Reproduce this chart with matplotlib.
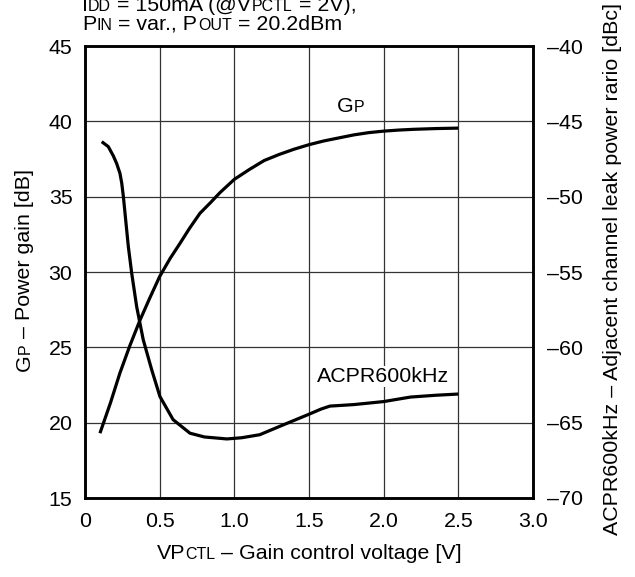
import matplotlib
matplotlib.use("Agg")
import matplotlib.pyplot as plt
from matplotlib.transforms import IdentityTransform
from matplotlib.font_manager import FontProperties, findfont, get_font

plt.rcParams['font.family'] = ['Liberation Sans', 'DejaVu Sans']

# Gain curve
vpctl_gp = [0.10, 0.17, 0.234, 0.30, 0.368, 0.435, 0.50, 0.57, 0.636, 0.70, 0.77, 0.84,
            0.904, 1.00, 1.10, 1.20, 1.30, 1.40, 1.50, 1.60, 1.70, 1.80, 1.90, 2.00,
            2.10, 2.20, 2.35, 2.50]
gp = [19.3, 21.3, 23.3, 25.1, 26.8, 28.3, 29.7, 30.9, 31.9, 32.9, 33.9, 34.6,
      35.27, 36.15, 36.8, 37.4, 37.8, 38.15, 38.45, 38.7, 38.9, 39.1, 39.25, 39.35,
      39.42, 39.47, 39.52, 39.55]

# ACPR curve
vpctl_acpr = [0.112, 0.156, 0.19, 0.212, 0.234, 0.246, 0.257, 0.268, 0.29, 0.313, 0.346,
              0.39, 0.447, 0.502, 0.59, 0.703, 0.80, 0.893, 0.95, 1.05, 1.17, 1.30, 1.40,
              1.50, 1.58, 1.64, 1.80, 2.00, 2.18, 2.35, 2.50]
acpr = [-46.35, -46.68, -47.3, -47.8, -48.45, -49.1, -50.0, -51.1, -53.3, -55.1, -57.3,
        -59.5, -61.5, -63.27, -64.8, -65.7, -65.95, -66.03, -66.08, -66.0, -65.8, -65.26,
        -64.85, -64.44, -64.1, -63.9, -63.8, -63.6, -63.3, -63.18, -63.1]

x_ticks = [0, 0.5, 1.0, 1.5, 2.0, 2.5, 3.0]
x_tick_labels = ['0', '0.5', '1.0', '1.5', '2.0', '2.5', '3.0']
gp_ticks = [15, 20, 25, 30, 35, 40, 45]
acpr_ticks = [-70, -65, -60, -55, -50, -45, -40]
acpr_tick_labels = ['\u201370', '\u201365', '\u201360', '\u201355', '\u201350', '\u201345', '\u201340']

BIG = 15.4
SMALL = 11.5
W, H = 635, 577
DPI = 100


def advance(s, size):
    # typographic advance width of a string in pixels
    font = get_font(findfont(FontProperties(family='Liberation Sans')))
    font.set_size(size, DPI)
    return sum(font.load_char(ord(c)).linearHoriAdvance / 65536 for c in s)


def rich_text(fig, x, y, pieces, rotation=0, ha='left'):
    # pieces of text with different sizes on one baseline; x, y in pixels from top-left
    px, py = x, H - y
    widths = [advance(s, size) for s, size in pieces]
    total = sum(widths)
    pos = {'left': 0, 'center': -total / 2, 'right': -total}[ha]
    for (s, size), w in zip(pieces, widths):
        if rotation == 90:
            xy = (px, py + pos)
        else:
            xy = (px + pos, py)
        fig.text(xy[0], xy[1], s, fontsize=size, transform=IdentityTransform(),
                 rotation=rotation, rotation_mode='anchor', ha='left', va='baseline')
        pos += w


fig = plt.figure(figsize=(W / DPI, H / DPI), dpi=DPI)
ax = fig.add_axes([85 / W, 1 - 498 / H, 448 / W, 452 / H])

ax.plot(vpctl_gp, gp, color='black', lw=2.3, solid_capstyle='butt')
ax.set_xlim(0, 3.0)
ax.set_ylim(15, 45)
ax.set_xticks(x_ticks)
ax.set_xticklabels(x_tick_labels)
ax.set_yticks(gp_ticks)
ax.tick_params(length=0, labelsize=BIG, pad=9)
ax.tick_params(axis='x', pad=10)
ax.grid(True, color='#333333', lw=0.9)
for sp in ax.spines.values():
    sp.set_linewidth(1.8)

ax2 = ax.twinx()
ax2.plot(vpctl_acpr, acpr, color='black', lw=2.3, solid_capstyle='butt')
ax2.set_ylim(-70, -40)
ax2.set_yticks(acpr_ticks)
ax2.set_yticklabels(acpr_tick_labels)
ax2.tick_params(length=0, labelsize=BIG, pad=10)
for sp in ax2.spines.values():
    sp.set_linewidth(1.8)

# curve labels
ax.text(1.55, 22.7, 'ACPR600kHz', fontsize=BIG, ha='left', va='baseline',
        bbox=dict(facecolor='white', edgecolor='none', pad=1))

# GP label near the gain curve
rich_text(fig, 337, 112, [('G', BIG), ('P', SMALL)])

# header lines (the first one runs off the top edge, as in the original)
rich_text(fig, 82, 11,
          [('I', BIG), ('DD', SMALL), (' = 150mA (@V', BIG), ('PCTL', SMALL), (' = 2V),', BIG)])
rich_text(fig, 82, 30,
          [('P', BIG), ('IN', SMALL), (' = var., P', BIG), ('OUT', SMALL), (' = 20.2dBm', BIG)])

# axis labels
rich_text(fig, 309, 559,
          [('VP', BIG), ('CTL', SMALL), (' \u2013 Gain control voltage [V]', BIG)], ha='center')
rich_text(fig, 30, 270,
          [('G', BIG), ('P', SMALL), (' \u2013 Power gain [dB]', BIG)], rotation=90, ha='center')
rich_text(fig, 618, 535,
          [('ACPR600kHz \u2013 Adjacent channel leak power rario [dBc]', BIG)], rotation=90)

fig.savefig('out.png', dpi=DPI)
